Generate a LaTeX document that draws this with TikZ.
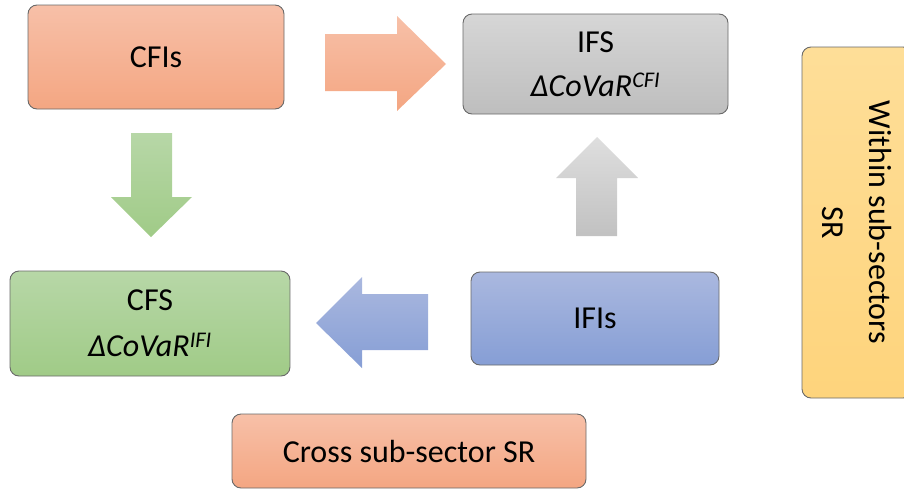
\documentclass[tikz,border=0pt]{standalone}
\usepackage{fontspec}
\setmainfont{Carlito}
\usetikzlibrary{shadings}
\definecolor{orTop}{RGB}{247,192,168}
\definecolor{orBot}{RGB}{244,166,130}
\definecolor{grTop}{RGB}{183,215,167}
\definecolor{grBot}{RGB}{160,203,135}
\definecolor{gyTop}{RGB}{214,214,214}
\definecolor{gyBot}{RGB}{190,190,190}
\definecolor{blTop}{RGB}{170,184,223}
\definecolor{blBot}{RGB}{134,158,213}
\definecolor{ylTop}{RGB}{254,222,152}
\definecolor{ylBot}{RGB}{254,212,124}
\definecolor{edge}{RGB}{105,105,105}
\tikzset{
  box/.style={draw=edge, line width=0.9pt, rounded corners=9pt, inner sep=0pt,
    align=center, font=\fontsize{32}{47}\selectfont},
  blockarrow/.style={draw=none},
}
\begin{document}
\begin{tikzpicture}[x=1pt,y=-1pt]
\useasboundingbox (0,0) rectangle (904,490);
\clip (0,0) rectangle (904,490);
% boxes
\node[box, top color=orTop, bottom color=orBot, minimum width=256pt, minimum height=104pt] (cfis) at (156,57) {CFIs};
\node[box, top color=gyTop, bottom color=gyBot, minimum width=265pt, minimum height=100pt] (ifs) at (595.5,64) {IFS\\[-3pt]\itshape ΔCoVaR\textsuperscript{CFI}};
\node[box, top color=grTop, bottom color=grBot, minimum width=280pt, minimum height=105pt] (cfs) at (150,323.5) {CFS\\[-1pt]\itshape ΔCoVaR\textsuperscript{IFI}};
\node[box, top color=blTop, bottom color=blBot, minimum width=248pt, minimum height=93pt] (ifis) at (595,318.5) {IFIs};
\node[box, top color=orTop, bottom color=orBot, minimum width=354pt, minimum height=74pt] (cross) at (409,451) {Cross sub-sector SR};
\node[box, top color=ylTop, bottom color=ylBot, minimum width=351pt, minimum height=110pt, rotate=-90] (within) at (857,222.5) {Within sub-sectors\\SR};
% block arrows
\path[blockarrow, top color=orTop, bottom color=orBot]
  (325,34) -- (397,34) -- (397,16) -- (446,64) -- (397,111) -- (397,91) -- (325,91) -- cycle;
\path[blockarrow, top color=grTop, bottom color=grBot]
  (131,133) -- (172,133) -- (172,197) -- (192,197) -- (151,237) -- (111,197) -- (131,197) -- cycle;
\path[blockarrow, top color=gyTop!80!white, bottom color=gyBot!95!white]
  (597,137) -- (638,178) -- (617,178) -- (617,236) -- (576,236) -- (576,178) -- (556,178) -- cycle;
\path[blockarrow, top color=blTop, bottom color=blBot]
  (316,323) -- (362,277) -- (362,294) -- (428,294) -- (428,350) -- (362,350) -- (362,368) -- cycle;
\end{tikzpicture}
\end{document}
